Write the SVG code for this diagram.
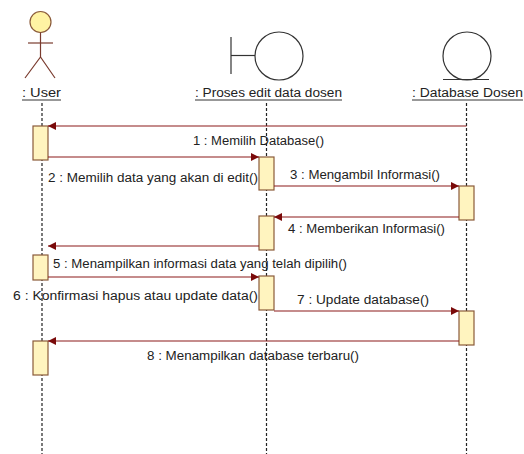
<svg xmlns="http://www.w3.org/2000/svg" width="524" height="454" viewBox="0 0 524 454">
<defs>
<style>
.t{font-family:"Liberation Sans",Arial,sans-serif;font-size:12.5px;fill:#222}
.life{stroke:#222;stroke-width:1.2;stroke-dasharray:3,2;fill:none}
.act{fill:#fff4bf;stroke:#8a5a3a;stroke-width:1.2}
.msg{stroke:#8b1a1a;stroke-width:1.2;fill:none}
.sym{fill:none;stroke:#333;stroke-width:1.2}
.ul{stroke:#333;stroke-width:1}
</style>
<marker id="ah" viewBox="0 0 10 10" refX="10" refY="5" markerWidth="9" markerHeight="8" markerUnits="userSpaceOnUse" orient="auto">
<path d="M0,0 L10,5 L0,10 Z" fill="#7a0a0a"/>
</marker>
</defs>
<rect width="524" height="454" fill="#fff"/>

<g id="user">
<circle cx="40.5" cy="22" r="10.5" fill="#fff3a3" stroke="#8a5a3a" stroke-width="1.2"/>
<line x1="40.5" y1="32.5" x2="40.5" y2="57" stroke="#7a3b2e" stroke-width="1.2"/>
<line x1="28" y1="43" x2="53" y2="43" stroke="#7a3b2e" stroke-width="1.2"/>
<path d="M25,78 L40.5,57 L55,78" fill="none" stroke="#7a3b2e" stroke-width="1.2"/>
<text class="t" x="22" y="97" textLength="39" lengthAdjust="spacingAndGlyphs">: User</text>
<line class="ul" x1="22" y1="100" x2="61" y2="100"/>
<line class="life" x1="42" y1="103" x2="42" y2="454"/>
</g>

<g id="proses">
<line class="sym" x1="231" y1="37" x2="231" y2="74"/>
<line class="sym" x1="231" y1="55.5" x2="255" y2="55.5"/>
<circle class="sym" cx="279" cy="56" r="24"/>
<text class="t" x="195" y="97" textLength="147" lengthAdjust="spacingAndGlyphs">: Proses edit data dosen</text>
<line class="ul" x1="195" y1="100" x2="342" y2="100"/>
<line class="life" x1="266.5" y1="103" x2="266.5" y2="454"/>
</g>

<g id="database">
<circle class="sym" cx="467" cy="56" r="24"/>
<line class="sym" x1="443" y1="79.5" x2="489" y2="79.5"/>
<text class="t" x="412" y="97" textLength="111" lengthAdjust="spacingAndGlyphs">: Database Dosen</text>
<line class="ul" x1="412" y1="100" x2="523" y2="100"/>
<line class="life" x1="466.5" y1="103" x2="466.5" y2="454"/>
</g>

<g id="activations">
<rect class="act" x="33" y="126" width="15" height="34"/>
<rect class="act" x="259" y="157" width="15" height="33"/>
<rect class="act" x="459" y="186" width="15" height="34"/>
<rect class="act" x="259" y="216" width="15" height="34"/>
<rect class="act" x="33" y="255" width="15" height="25"/>
<rect class="act" x="259" y="276" width="15" height="34"/>
<rect class="act" x="459" y="311" width="15" height="34"/>
<rect class="act" x="33" y="341" width="15" height="34"/>
</g>

<g id="connectors">
<line class="msg" x1="466.5" y1="126" x2="48" y2="126" marker-end="url(#ah)"/>
<line class="msg" x1="48" y1="157" x2="259" y2="157" marker-end="url(#ah)"/>
<line class="msg" x1="274" y1="186" x2="459" y2="186" marker-end="url(#ah)"/>
<line class="msg" x1="459" y1="217" x2="274" y2="217" marker-end="url(#ah)"/>
<line class="msg" x1="259" y1="246" x2="48" y2="246" marker-end="url(#ah)"/>
<line class="msg" x1="48" y1="277" x2="259" y2="277" marker-end="url(#ah)"/>
<line class="msg" x1="274" y1="311" x2="459" y2="311" marker-end="url(#ah)"/>
<line class="msg" x1="459" y1="341" x2="48" y2="341" marker-end="url(#ah)"/>
</g>

<g id="labels">
<text class="t" x="193" y="145" textLength="131" lengthAdjust="spacingAndGlyphs">1 : Memilih Database()</text>
<text class="t" x="48" y="182" textLength="210" lengthAdjust="spacingAndGlyphs">2 : Memilih data yang akan di edit()</text>
<text class="t" x="290" y="179" textLength="150" lengthAdjust="spacingAndGlyphs">3 : Mengambil Informasi()</text>
<text class="t" x="288" y="233" textLength="157" lengthAdjust="spacingAndGlyphs">4 : Memberikan Informasi()</text>
<text class="t" x="53" y="268" textLength="294" lengthAdjust="spacingAndGlyphs">5 : Menampilkan informasi data yang telah dipilih()</text>
<text class="t" x="13" y="300" textLength="245" lengthAdjust="spacingAndGlyphs">6 : Konfirmasi hapus atau update data()</text>
<text class="t" x="297" y="304" textLength="132" lengthAdjust="spacingAndGlyphs">7 : Update database()</text>
<text class="t" x="147" y="360" textLength="212" lengthAdjust="spacingAndGlyphs">8 : Menampilkan database terbaru()</text>
</g>
</svg>
